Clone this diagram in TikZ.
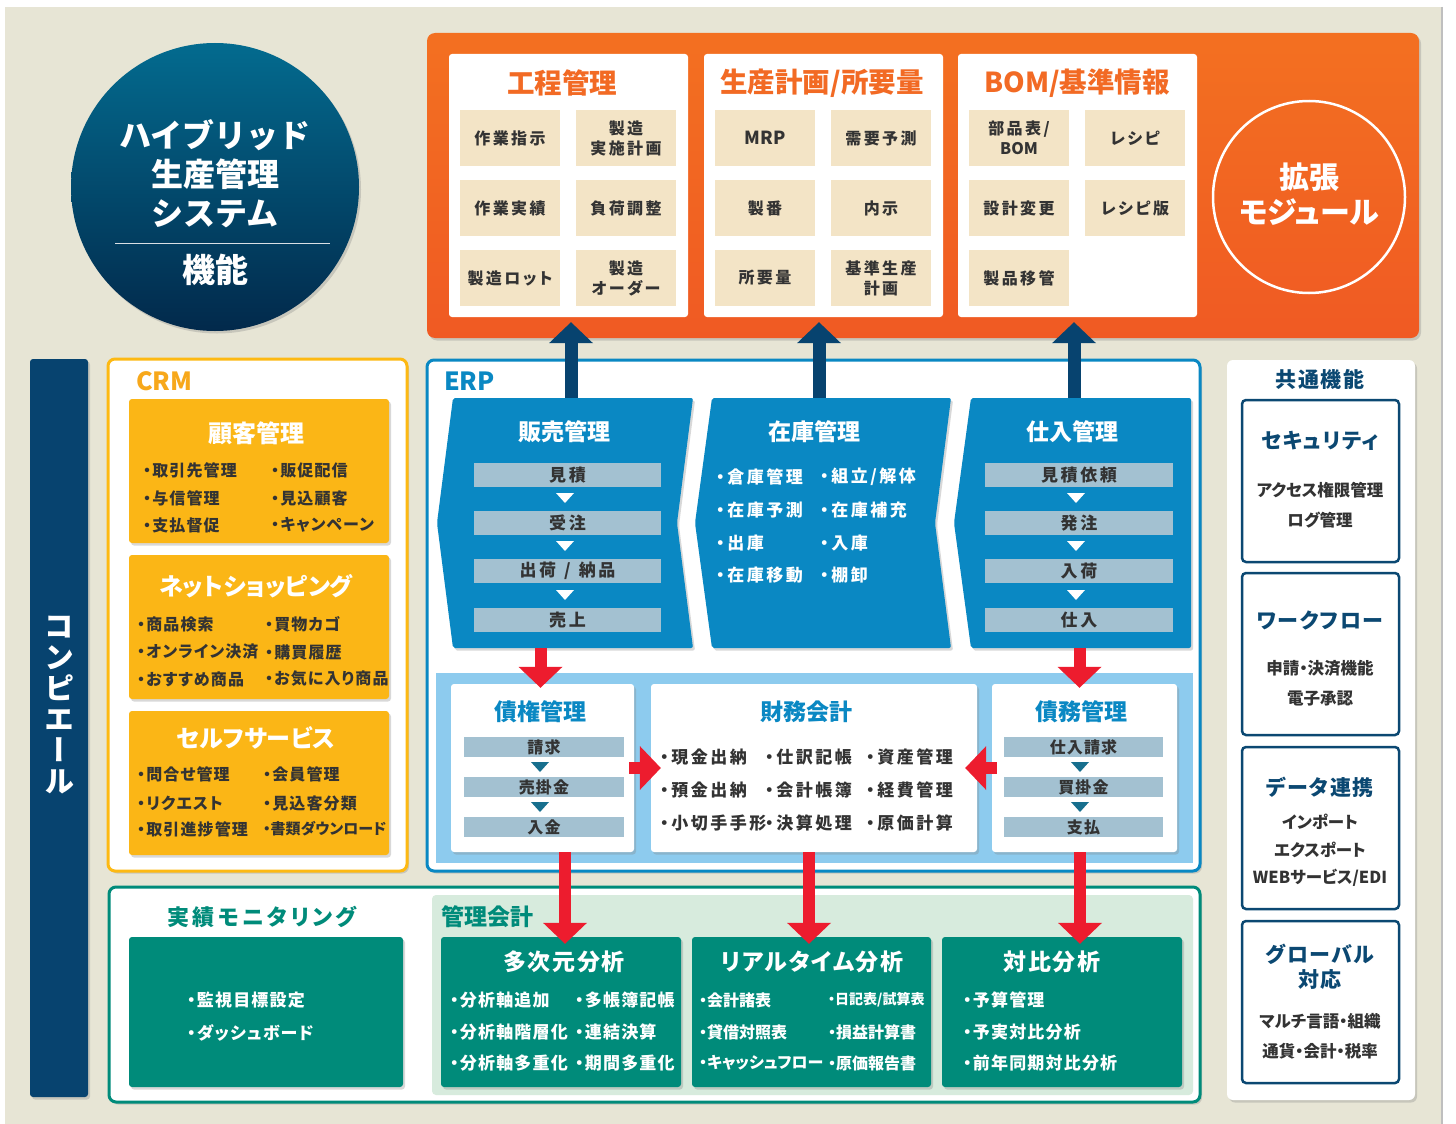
\documentclass[tikz,border=0pt]{standalone}
\usepackage{fontspec}
\setmainfont{Noto Sans CJK JP}[RawFeature=+palt]
\newfontfamily\jpfull{Noto Sans CJK JP}
\newfontfamily\jpwide{Noto Sans CJK JP}[LetterSpace=15,RawFeature=+palt]
\newfontfamily\jpmid{Noto Sans CJK JP}[LetterSpace=7,RawFeature=+palt]
\newfontfamily\jpvert{Noto Sans CJK JP}[RawFeature=+vert]
\usetikzlibrary{arrows.meta}
\usetikzlibrary{shadows}
\usetikzlibrary{positioning}
\newcommand{\pxsize}[1]{\fontsize{#1}{#1}\selectfont}
\newcommand{\downtri}[3]{\fill[#3] (#1-9,#2-5) -- (#1+9,#2-5) -- (#1,#2+5) -- cycle;}
\definecolor{bgbeige}{HTML}{E7E5D5}
\definecolor{circtop}{HTML}{036B8F}
\definecolor{circbot}{HTML}{02294B}
\definecolor{orgtop}{HTML}{F37021}
\definecolor{orgbot}{HTML}{F05A23}
\definecolor{orgtxt}{HTML}{F26A24}
\definecolor{cellbg}{HTML}{F3E4C6}
\definecolor{txtdark}{HTML}{333333}
\definecolor{navy}{HTML}{07436F}
\definecolor{crmline}{HTML}{FDB913}
\definecolor{crmfill}{HTML}{FBB616}
\definecolor{crmtxt}{HTML}{F7A81B}
\definecolor{erpblue}{HTML}{0A88C3}
\definecolor{barblue}{HTML}{A3C1D1}
\definecolor{bandblue}{HTML}{8DCBEE}
\definecolor{tritea}{HTML}{176F8E}
\definecolor{arrowred}{HTML}{ED1C2E}
\definecolor{tealbox}{HTML}{008B7A}
\definecolor{mintbg}{HTML}{D7EBDD}
\definecolor{comnavy}{HTML}{0B4872}
\tikzstyle{none}=[inner sep=0pt]
\tikzstyle{softshadow}=[drop shadow={opacity=0.3,shadow xshift=2pt,shadow yshift=-2.5pt}]
\tikzstyle{card}=[fill=white,rounded corners=3pt,inner sep=0pt]
\tikzstyle{cardtitle}=[inner sep=0pt,text=orgtxt,font=\bfseries\pxsize{27.5}]
\tikzstyle{cell}=[fill=cellbg,minimum width=100pt,minimum height=56pt,inner sep=0pt,align=center,text=txtdark,font=\jpwide\bfseries\pxsize{16}]
\tikzstyle{crmbox}=[fill=crmfill,rounded corners=3pt,minimum width=260pt,minimum height=144pt,inner sep=0pt,softshadow]
\tikzstyle{crmtitle}=[inner sep=0pt,text=white,font=\bfseries\pxsize{24}]
\tikzstyle{crmitem}=[inner sep=0pt,anchor=west,text=txtdark,font=\jpmid\bfseries\pxsize{16}]
\tikzstyle{erpshape}=[fill=erpblue,rounded corners=2pt,softshadow]
\tikzstyle{erptitle}=[inner sep=0pt,text=white,font=\bfseries\pxsize{23}]
\tikzstyle{stepbar}=[fill=barblue,minimum height=24pt,inner sep=0pt,text=txtdark,font=\jpwide\bfseries\pxsize{17}]
\tikzstyle{erpitem}=[inner sep=0pt,anchor=west,text=white,font=\jpwide\bfseries\pxsize{17}]
\tikzstyle{bandcard}=[fill=white,rounded corners=3pt,minimum height=168pt,inner sep=0pt,softshadow]
\tikzstyle{bandtitle}=[inner sep=0pt,text=erpblue,font=\bfseries\pxsize{23}]
\tikzstyle{smallbar}=[fill=barblue,minimum height=20pt,inner sep=0pt,text=txtdark,font=\jpmid\bfseries\pxsize{16}]
\tikzstyle{darkitem}=[inner sep=0pt,anchor=west,text=txtdark,font=\jpwide\bfseries\pxsize{17}]
\tikzstyle{tealcard}=[fill=tealbox,rounded corners=3pt,minimum width=240pt,minimum height=150pt,inner sep=0pt,softshadow]
\tikzstyle{tealtitle}=[inner sep=0pt,text=white,font=\jpmid\bfseries\pxsize{23}]
\tikzstyle{tealitem}=[inner sep=0pt,anchor=west,text=white,font=\jpmid\bfseries\pxsize{17}]
\tikzstyle{combox}=[draw=comnavy,line width=2.5pt,rounded corners=4pt,minimum width=157pt,minimum height=162pt,inner sep=0pt]
\tikzstyle{comtitle}=[inner sep=0pt,text=comnavy,font=\jpmid\bfseries\pxsize{21},align=center]
\tikzstyle{comitem}=[inner sep=0pt,text=txtdark,font=\bfseries\pxsize{16.5}]
\tikzstyle{uparrow}=[draw=navy,line width=13pt,-{Triangle[width=44pt,length=21pt,line width=0pt]}]
\tikzstyle{redarrow}=[draw=arrowred,line width=12pt,-{Triangle[width=44pt,length=21pt,line width=0pt]}]

\begin{document}
\begin{tikzpicture}[x=1pt,y=-1pt]
	\useasboundingbox (0,0) rectangle (1456,1124);
	\fill[white] (0,0) rectangle (1456,1124);
	\fill[bgbeige] (5,7) rectangle (1441,1124);
	\draw[black!25,line width=1.5pt] (1442,7) -- (1442,1124);

	% title circle
	\node[circle,minimum size=288pt,top color=circtop,bottom color=circbot,softshadow] (hybrid) at (215,187) {};
	\node[none,text=white,font=\jpfull\bfseries\pxsize{32},align=center] (hybridt) at (215,174) {ハイブリッド\\[7pt]生産管理\\[7pt]システム};
	\draw[white!85!circbot,line width=1pt] (115,243) -- (330,243);
	\node[none,text=white,font=\jpfull\bfseries\pxsize{33}] (kinou) at (215,270) {機能};

	% production area
	\path[rounded corners=8pt,top color=orgtop,bottom color=orgbot,softshadow] (427,33) rectangle (1419,338);
	\node[card,minimum width=239pt,minimum height=263pt] (koutei) at (568.5,185.5) {};
	\node[card,minimum width=239pt,minimum height=263pt] (seisan) at (823.5,185.5) {};
	\node[card,minimum width=239pt,minimum height=263pt] (bom) at (1077.5,185.5) {};
	\node[cardtitle] (kouteit) at (562,83) {工程管理};
	\node[cardtitle] (seisant) at (822,83) {生産計画/所要量};
	\node[cardtitle] (bomt) at (1077,83) {BOM/基準情報};
	\node[cell] (c11) at (510,138) {作業指示};
	\node[cell] (c12) at (626,138) {製造\\[4pt]実施計画};
	\node[cell] (c13) at (510,208) {作業実績};
	\node[cell] (c14) at (626,208) {負荷調整};
	\node[cell] (c15) at (510,278) {製造ロット};
	\node[cell] (c16) at (626,278) {製造\\[4pt]オーダー};
	\node[cell,font=\bfseries\pxsize{18}] (c21) at (765,138) {MRP};
	\node[cell] (c22) at (881,138) {需要予測};
	\node[cell] (c23) at (765,208) {製番};
	\node[cell] (c24) at (881,208) {内示};
	\node[cell] (c25) at (765,278) {所要量};
	\node[cell] (c26) at (881,278) {基準生産\\[4pt]計画};
	\node[cell] (c31) at (1019,138) {部品表/\\[4pt]{\mdseries\bfseries\jpfull BOM}};
	\node[cell] (c32) at (1135,138) {レシピ};
	\node[cell] (c33) at (1019,208) {設計変更};
	\node[cell] (c34) at (1135,208) {レシピ版};
	\node[cell] (c35) at (1019,278) {製品移管};
	\node[circle,draw=white,line width=2.5pt,minimum size=192pt,inner sep=0pt] (ext) at (1309,197) {};
	\node[none,text=white,font=\bfseries\pxsize{30},align=center] (extt) at (1309,194) {拡張\\[5pt]モジュール};

	% left bar
	\fill[navy,rounded corners=3pt,softshadow] (30,359) rectangle (88,1097);
	\node[none,text=white,font=\jpvert\bfseries\pxsize{30},align=center] (compiere) at (59,705) {コ\\[1pt]ン\\[1pt]ピ\\[1pt]エ\\[1pt]ー\\[1pt]ル};

	% CRM
	\draw[crmline,fill=white,line width=3pt,rounded corners=7pt,softshadow] (108,359) rectangle (407,871);
	\node[none,anchor=west,text=crmtxt,font=\bfseries\pxsize{25}] (crm) at (136,381) {CRM};
	\node[crmbox] (kokyaku) at (259,471) {};
	\node[crmbox] (netshop) at (259,627) {};
	\node[crmbox] (self) at (259,783) {};
	\node[crmtitle] (kokyakut) at (256,433) {顧客管理};
	\node[crmtitle] (netshopt) at (256,586) {ネットショッピング};
	\node[crmtitle] (selft) at (256,738) {セルフサービス};
	\node[crmitem] at (143,470) {・取引先管理};
	\node[crmitem] at (143,498) {・与信管理};
	\node[crmitem] at (143,525) {・支払督促};
	\node[crmitem] at (271,470) {・販促配信};
	\node[crmitem] at (271,498) {・見込顧客};
	\node[crmitem] at (271,525) {・キャンペーン};
	\node[crmitem] at (137,624) {・商品検索};
	\node[crmitem] at (137,652) {・オンライン決済};
	\node[crmitem] at (137,679) {・おすすめ商品};
	\node[crmitem] at (265,624) {・買物カゴ};
	\node[crmitem] at (265,652) {・購買履歴};
	\node[crmitem] at (265,679) {・お気に入り商品};
	\node[crmitem] at (137,774) {・問合せ管理};
	\node[crmitem] at (137,803) {・リクエスト};
	\node[crmitem] at (137,829) {・取引進捗管理};
	\node[crmitem] at (263,774) {・会員管理};
	\node[crmitem] at (263,803) {・見込客分類};
	\node[crmitem,font=\bfseries\pxsize{15}] at (263,829) {・書類ダウンロード};

	% ERP
	\draw[erpblue,fill=white,line width=3pt,rounded corners=7pt,softshadow] (427,360) rectangle (1200,871);
	\node[none,anchor=west,text=erpblue,font=\bfseries\pxsize{25}] (erp) at (444,381) {ERP};
	\path[erpshape] (453,398) -- (693,398) -- (677,523) -- (693,648) -- (453,648) -- (437,523) -- cycle;
	\path[erpshape] (712,398) -- (951,398) -- (935,523) -- (951,648) -- (712,648) -- (695,523) -- cycle;
	\path[erpshape] (971,398) -- (1191,398) -- (1191,648) -- (971,648) -- (954,523) -- cycle;
	\node[none,minimum width=256pt,minimum height=250pt] (sales) at (565,523) {};
	\node[none,minimum width=257pt,minimum height=250pt] (stock) at (822.5,523) {};
	\node[none,minimum width=237pt,minimum height=250pt] (purch) at (1072.5,523) {};
	\node[erptitle] (salest) at (564,432) {販売管理};
	\node[erptitle] (stockt) at (814,432) {在庫管理};
	\node[erptitle] (purcht) at (1072,432) {仕入管理};
	\node[stepbar,minimum width=187pt] (s1) at (567.5,475) {見積};
	\node[stepbar,minimum width=187pt] (s2) at (567.5,523) {受注};
	\node[stepbar,minimum width=187pt] (s3) at (567.5,571) {出荷\kern8pt/\kern8pt納品};
	\node[stepbar,minimum width=187pt] (s4) at (567.5,620) {売上};
	\node[stepbar,minimum width=188pt] (p1) at (1079,475) {見積依頼};
	\node[stepbar,minimum width=188pt] (p2) at (1079,523) {発注};
	\node[stepbar,minimum width=188pt] (p3) at (1079,571) {入荷};
	\node[stepbar,minimum width=188pt] (p4) at (1079,620) {仕入};
	\foreach \y in {498,546,595} {
		\downtri{565}{\y}{white}
		\downtri{1076}{\y}{white}
	}
	\node[erpitem] at (716,477) {・倉庫管理};
	\node[erpitem] at (716,510) {・在庫予測};
	\node[erpitem] at (716,543) {・出庫};
	\node[erpitem] at (716,575) {・在庫移動};
	\node[erpitem] at (820,477) {・組立/解体};
	\node[erpitem] at (820,510) {・在庫補充};
	\node[erpitem] at (820,543) {・入庫};
	\node[erpitem] at (820,575) {・棚卸};

	% accounting band
	\fill[bandblue] (436,673) rectangle (1193,863);
	\node[bandcard,minimum width=183pt] (saiken) at (542.5,768) {};
	\node[bandcard,minimum width=326pt] (zaimu) at (814,768) {};
	\node[bandcard,minimum width=185pt] (saimu) at (1084.5,768) {};
	\node[bandtitle] (saikent) at (540,712) {債権管理};
	\node[bandtitle] (zaimut) at (806,712) {財務会計};
	\node[bandtitle] (saimut) at (1081,712) {債務管理};
	\node[smallbar,minimum width=160pt] (k1) at (544,747) {請求};
	\node[smallbar,minimum width=160pt] (k2) at (544,787) {売掛金};
	\node[smallbar,minimum width=160pt] (k3) at (544,827) {入金};
	\node[smallbar,minimum width=159pt] (m1) at (1083.5,747) {仕入請求};
	\node[smallbar,minimum width=159pt] (m2) at (1083.5,787) {買掛金};
	\node[smallbar,minimum width=159pt] (m3) at (1083.5,827) {支払};
	\foreach \y in {767,807} {
		\downtri{540}{\y}{tritea}
		\downtri{1080}{\y}{tritea}
	}
	\node[darkitem] at (660,757) {・現金出納};
	\node[darkitem] at (660,790) {・預金出納};
	\node[darkitem] at (660,823) {・小切手手形};
	\node[darkitem] at (765,757) {・仕訳記帳};
	\node[darkitem] at (765,790) {・会計帳簿};
	\node[darkitem] at (765,823) {・決算処理};
	\node[darkitem] at (866,757) {・資産管理};
	\node[darkitem] at (866,790) {・経費管理};
	\node[darkitem] at (866,823) {・原価計算};

	% analysis area
	\draw[tealbox,fill=white,line width=3pt,rounded corners=7pt,softshadow] (109,887) rectangle (1200,1102);
	\fill[mintbg,rounded corners=4pt] (432,895) rectangle (1193,1095);
	\node[none,text=tealbox,font=\jpwide\bfseries\pxsize{22}] (monitort) at (262,917) {実績モニタリング};
	\node[none,anchor=west,text=tealbox,font=\bfseries\pxsize{23}] (kanrit) at (441,917) {管理会計};
	\node[tealcard,minimum width=274pt] (monitor) at (266,1012) {};
	\node[tealcard] (tamen) at (561,1012) {};
	\node[tealcard,minimum width=239pt] (realtime) at (811.5,1012) {};
	\node[tealcard] (taihi) at (1062,1012) {};
	\node[tealitem] at (187,1000) {・監視目標設定};
	\node[tealitem] at (187,1033) {・ダッシュボード};
	\node[tealtitle] (tament) at (564,962) {多次元分析};
	\node[tealtitle] (realtimet) at (812,962) {リアルタイム分析};
	\node[tealtitle] (taihit) at (1052,962) {対比分析};
	\node[tealitem] at (450,1000) {・分析軸追加};
	\node[tealitem] at (450,1032) {・分析軸階層化};
	\node[tealitem] at (450,1063) {・分析軸多重化};
	\node[tealitem] at (575,1000) {・多帳簿記帳};
	\node[tealitem] at (575,1032) {・連結決算};
	\node[tealitem] at (575,1063) {・期間多重化};
	\node[tealitem,font=\bfseries\pxsize{16}] at (699,1000) {・会計諸表};
	\node[tealitem,font=\bfseries\pxsize{16}] at (699,1032) {・貸借対照表};
	\node[tealitem,font=\bfseries\pxsize{16}] at (699,1063) {・キャッシュフロー};
	\node[tealitem,font=\bfseries\pxsize{14}] at (828,1000) {・日記表/試算表};
	\node[tealitem,font=\bfseries\pxsize{16}] at (828,1032) {・損益計算書};
	\node[tealitem,font=\bfseries\pxsize{16}] at (828,1063) {・原価報告書};
	\node[tealitem] at (963,1000) {・予算管理};
	\node[tealitem] at (963,1032) {・予実対比分析};
	\node[tealitem] at (963,1063) {・前年同期対比分析};

	% common functions
	\path[fill=white,rounded corners=6pt,softshadow] (1227,360) rectangle (1415,1100);
	\node[none,text=comnavy,font=\jpmid\bfseries\pxsize{21}] (common) at (1320,379) {共通機能};
	\node[combox] (security) at (1320.5,481) {};
	\node[combox] (workflow) at (1320.5,654) {};
	\node[combox] (datalink) at (1320.5,828) {};
	\node[combox] (global) at (1320.5,1002) {};
	\node[comtitle] at (1320,441) {セキュリティ};
	\node[comitem] at (1320,490) {アクセス権限管理};
	\node[comitem] at (1320,520) {ログ管理};
	\node[comtitle] at (1320,620) {ワークフロー};
	\node[comitem] at (1320,668) {申請・決済機能};
	\node[comitem] at (1320,698) {電子承認};
	\node[comtitle] at (1320,787) {データ連携};
	\node[comitem] at (1320,822) {インポート};
	\node[comitem] at (1320,850) {エクスポート};
	\node[comitem] at (1320,878) {WEBサービス/EDI};
	\node[comtitle] at (1320,967) {グローバル\\[4pt]対応};
	\node[comitem] at (1320,1021) {マルチ言語・組織};
	\node[comitem] at (1320,1051) {通貨・会計・税率};

	% connectors
	\draw[uparrow,shorten >=5pt] ([xshift=6pt]sales.north) to ([xshift=6pt]sales.north |- koutei.south);
	\draw[uparrow,shorten >=5pt] ([xshift=-3.5pt]stock.north) to ([xshift=-3.5pt]stock.north |- seisan.south);
	\draw[uparrow,shorten >=5pt] ([xshift=1.5pt]purch.north) to ([xshift=1.5pt]purch.north |- bom.south);
	\draw[redarrow,shorten >=-4pt] ([xshift=-2pt]saiken.north |- sales.south) to ([xshift=-2pt]saiken.north);
	\draw[redarrow,shorten >=-4pt] ([xshift=-5pt]saimu.north |- purch.south) to ([xshift=-5pt]saimu.north);
	\draw[redarrow,shorten <=-5pt,shorten >=-10pt] (saiken.east) to (zaimu.west);
	\draw[redarrow,shorten <=-5pt,shorten >=-12pt] (saimu.west) to (zaimu.east);
	\draw[redarrow,shorten >=-7pt] ([xshift=4pt]saiken.south -| tamen.north) to ([xshift=4pt]tamen.north);
	\draw[redarrow,shorten >=-7pt] ([xshift=-2.5pt]zaimu.south -| realtime.north) to ([xshift=-2.5pt]realtime.north);
	\draw[redarrow,shorten >=-7pt] ([xshift=-4.5pt]saimu.south) to ([xshift=-4.5pt]saimu.south |- taihi.north);
\end{tikzpicture}
\end{document}
